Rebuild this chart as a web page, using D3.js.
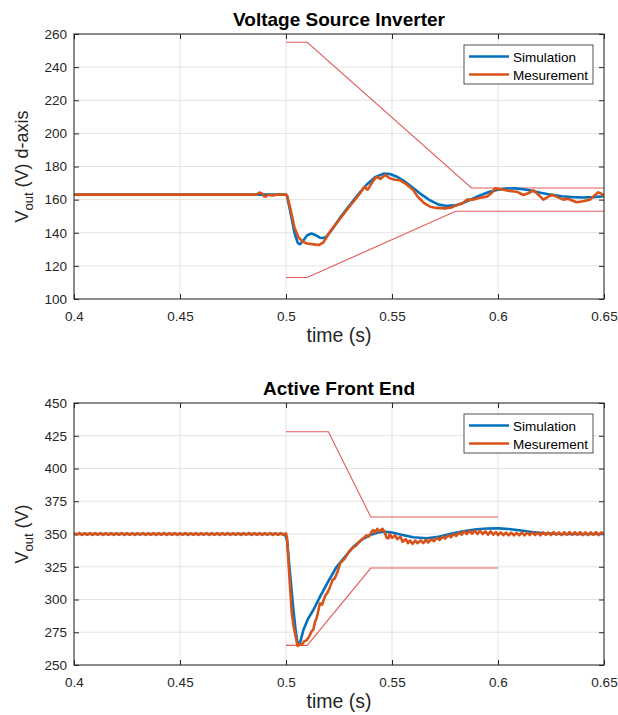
<!DOCTYPE html>
<meta charset="utf-8">
<style>
  body { margin: 0; background: #fff; }
  svg { display: block; font-family: "Liberation Sans", Arial, Helvetica, sans-serif; }
  .grid line { stroke: #e3e3e3; stroke-width: 1; }
  .tick text { fill: #262626; font-size: 13.5px; }
  .axis .domain { display: none; }
  .axis .tick line { stroke: #262626; }
  .frame { fill: none; stroke: #262626; stroke-width: 1; }
  .sim { fill: none; stroke: #0072bd; stroke-width: 2.6; stroke-linejoin: round; }
  .meas { fill: none; stroke: #d95319; stroke-width: 2.6; stroke-linejoin: round; }
  .env { fill: none; stroke: #e45a5a; stroke-width: 1.1; }
</style>
<svg width="618" height="715"></svg>
<script src="https://d3js.org/d3.v7.min.js"></script>
<script>
  // x axis (shared)
  var timeTicks = [0.4, 0.45, 0.5, 0.55, 0.6, 0.65];
  var timeTickLabels = ["0.4", "0.45", "0.5", "0.55", "0.6", "0.65"];
  var seriesNames = ["Simulation", "Mesurement"];

  // ---- Voltage Source Inverter (d-axis) ----
  var vsiTicks = [100, 120, 140, 160, 180, 200, 220, 240, 260];
  var vsiSim = [
    [0.4, 163], [0.5, 163], [0.5005, 162], [0.502, 153], [0.504, 140], [0.5055, 134], [0.5065, 133],
    [0.508, 135], [0.510, 138.5], [0.512, 139.5], [0.514, 138.5], [0.516, 137], [0.5175, 136.8],
    [0.519, 137.5], [0.522, 142.5], [0.526, 150], [0.530, 156.5], [0.534, 163], [0.538, 169],
    [0.542, 173.5], [0.546, 175.7], [0.549, 175.5], [0.552, 174], [0.556, 171], [0.560, 167],
    [0.564, 163], [0.568, 159.5], [0.572, 157], [0.576, 156.2], [0.580, 156.5], [0.584, 158.3],
    [0.588, 160.5], [0.592, 162.8], [0.596, 164.8], [0.600, 166], [0.604, 166.7], [0.608, 166.8],
    [0.612, 166.3], [0.616, 165.3], [0.620, 164.2], [0.625, 163], [0.630, 162], [0.635, 161.5],
    [0.640, 161.3], [0.645, 161.5], [0.65, 162]
  ];
  var vsiMeas = [
    [0.4, 163], [0.486, 163], [0.4875, 164.3], [0.489, 163.5], [0.4895, 162], [0.4905, 161.8],
    [0.4915, 163], [0.4935, 162.5], [0.496, 163], [0.5, 163], [0.5005, 162.5], [0.502, 155],
    [0.504, 143], [0.506, 137], [0.508, 134.5], [0.510, 133.5], [0.513, 133], [0.5155, 132.6],
    [0.5175, 134], [0.519, 137], [0.521, 141], [0.524, 146], [0.527, 151], [0.530, 156], [0.532, 159],
    [0.535, 164], [0.537, 167.8], [0.5385, 166], [0.5395, 168], [0.5405, 170], [0.5415, 172],
    [0.5428, 173.8], [0.5445, 172.5], [0.5467, 174.9], [0.549, 172.9], [0.5514, 172], [0.5535, 171.8],
    [0.556, 170], [0.558, 168], [0.560, 165.8], [0.562, 162], [0.565, 158], [0.568, 155.7],
    [0.571, 155], [0.575, 154.7], [0.578, 155.2], [0.5805, 156.7], [0.583, 157.5], [0.5855, 160],
    [0.588, 160], [0.591, 161], [0.5947, 161.8], [0.597, 164], [0.5986, 166.8], [0.6025, 166],
    [0.6055, 165.2], [0.6088, 164.8], [0.612, 162.8], [0.6145, 164], [0.6167, 165.6], [0.619, 163],
    [0.6214, 160], [0.624, 162], [0.626, 162.8], [0.628, 161.5], [0.6308, 160], [0.633, 160.5],
    [0.635, 159.5], [0.6371, 158.4], [0.640, 159], [0.6434, 160], [0.6455, 162.5], [0.6473, 164.4],
    [0.649, 163.5], [0.65, 162]
  ];
  var vsiUpper = [[0.5, 255], [0.51, 255], [0.5875, 167], [0.65, 167]];
  var vsiLower = [[0.5, 113], [0.51, 113], [0.58, 153], [0.65, 153]];

  // ---- Active Front End ----
  var afeTicks = [250, 275, 300, 325, 350, 375, 400, 425, 450];
  var afeSim = [
    [0.4, 350], [0.4995, 350], [0.5005, 345], [0.502, 318], [0.5035, 292], [0.5045, 277],
    [0.5052, 269], [0.5058, 265.5], [0.5068, 268], [0.5082, 276.7], [0.5105, 285.6], [0.5129, 292],
    [0.516, 302], [0.520, 314], [0.5239, 325], [0.528, 333], [0.5318, 340.3], [0.536, 346],
    [0.5396, 349.2], [0.543, 351], [0.5459, 351.8], [0.550, 351.2], [0.555, 349.2], [0.560, 347.5],
    [0.5664, 346.7], [0.572, 347.8], [0.5789, 350.5], [0.585, 352.5], [0.590, 353.6], [0.595, 354.2],
    [0.6002, 354.3], [0.605, 353.8], [0.610, 352.8], [0.615, 351.7], [0.6214, 350.5], [0.63, 350],
    [0.65, 350]
  ];
  // measured ripple before the step, sampled every rippleDt from 0.4
  var rippleDt = 0.00125;
  var afeMeasBefore = [
    350.7, 349.4, 350.8, 349.3, 350.6, 349.4, 350.7, 349.3, 350.7, 349.4,
    350.8, 349.3, 350.7, 349.4, 350.7, 349.3, 350.6, 349.4, 350.8, 349.3,
    350.7, 349.4, 350.7, 349.3, 350.7, 349.4, 350.8, 349.3, 350.6, 349.4,
    350.7, 349.3, 350.7, 349.4, 350.8, 349.3, 350.7, 349.4, 350.7, 349.3,
    350.7, 349.4, 350.8, 349.3, 350.6, 349.4, 350.7, 349.3, 350.7, 349.4,
    350.8, 349.3, 350.7, 349.4, 350.7, 349.3, 350.7, 349.4, 350.8, 349.3,
    350.6, 349.4, 350.7, 349.3, 350.7, 349.4, 350.8, 349.3, 350.7, 349.4,
    350.7, 349.3, 350.7, 349.4, 350.8, 349.3, 350.6, 349.4, 350.7, 349.3,
    350.5
  ];
  var afeMeasStep = [
    [0.5005, 347], [0.5015, 320], [0.5027, 290], [0.5035, 280.5], [0.5045, 272], [0.5055, 264.5],
    [0.5065, 266], [0.5075, 265.5], [0.5085, 268], [0.5098, 269], [0.511, 272], [0.5122, 276],
    [0.5129, 277], [0.5137, 283], [0.5145, 286], [0.516, 297], [0.517, 296], [0.5185, 303],
    [0.5195, 305], [0.5208, 309.8], [0.522, 315], [0.523, 316], [0.5245, 322], [0.5255, 327.6],
    [0.527, 330], [0.528, 332], [0.5295, 336], [0.5318, 340], [0.533, 341], [0.5345, 344],
    [0.5365, 346.7], [0.538, 349], [0.539, 348], [0.5405, 352], [0.5412, 353], [0.542, 351],
    [0.543, 354], [0.544, 352], [0.5455, 354], [0.5465, 351.5], [0.5475, 347], [0.5483, 346.7],
    [0.549, 350], [0.550, 347], [0.5515, 349], [0.5525, 346], [0.554, 348], [0.555, 344],
    [0.5565, 346], [0.5575, 343], [0.5585, 345], [0.5598, 342.5], [0.561, 345], [0.562, 343],
    [0.5635, 345], [0.5648, 343], [0.566, 345.5], [0.567, 343.5], [0.5685, 346], [0.5698, 344.5],
    [0.5711, 347], [0.5725, 345.5], [0.574, 348], [0.575, 346.5], [0.5765, 349], [0.5778, 347.5],
    [0.579, 350], [0.5803, 348.5], [0.5815, 351], [0.5828, 349.5], [0.584, 352], [0.5853, 350],
    [0.5865, 352.3], [0.5878, 350.2], [0.589, 352.5], [0.5903, 350], [0.5915, 352.5], [0.5928, 350],
    [0.594, 352], [0.5953, 349.5], [0.5965, 352], [0.5978, 349.5], [0.599, 351.5]
  ];
  // measured ripple after 0.6, sampled every rippleDt
  var afeMeasAfter = [
    349.2, 351.3, 349.1, 351.1, 349.0, 351.0, 348.9, 350.9, 348.9, 351.0,
    349.0, 351.1, 349.1, 351.2, 349.2, 351.0, 349.0, 351.3, 349.3, 351.1,
    349.1, 351.4, 349.4, 351.2, 349.2, 351.3, 349.4, 351.5, 349.3, 351.3,
    349.4, 351.4, 349.2, 351.2, 349.1, 351.3, 349.3, 351.4, 349.2, 351.2,
    350.3
  ];
  var afeUpper = [[0.5, 428], [0.52, 428], [0.54, 363], [0.6, 363]];
  var afeLower = [[0.5, 265], [0.51, 265], [0.54, 324], [0.6, 324]];

  var afeMeas = afeMeasBefore.map(function(v, i) { return [0.4 + i * rippleDt, v]; })
    .concat(afeMeasStep)
    .concat(afeMeasAfter.map(function(v, i) { return [0.6 + i * rippleDt, v]; }));

  var svg = d3.select("svg");
  var left = 74, right = 604;

  function panel(opt) {
    var top = opt.top, bottom = opt.bottom, id = opt.id;
    var x = d3.scaleLinear().domain([0.4, 0.65]).range([left, right]);
    var y = d3.scaleLinear().domain([opt.yTicks[0], opt.yTicks[opt.yTicks.length - 1]]).range([bottom, top]);
    var g = svg.append("g");

    g.append("clipPath").attr("id", "clip" + id)
      .append("rect").attr("x", left).attr("y", top).attr("width", right - left).attr("height", bottom - top);

    // grid
    var grid = g.append("g").attr("class", "grid");
    grid.selectAll(".gx").data(timeTicks).join("line")
      .attr("x1", d => x(d)).attr("x2", d => x(d)).attr("y1", top).attr("y2", bottom);
    grid.selectAll(".gy").data(opt.yTicks).join("line")
      .attr("y1", d => y(d)).attr("y2", d => y(d)).attr("x1", left).attr("x2", right);

    // axes, ticks pointing inward on all four sides
    g.append("g").attr("class", "axis").attr("transform", "translate(0," + bottom + ")")
      .call(d3.axisBottom(x).tickValues(timeTicks).tickFormat((d, i) => timeTickLabels[i]).tickSize(-5).tickPadding(12));
    g.append("g").attr("class", "axis").attr("transform", "translate(0," + top + ")")
      .call(d3.axisTop(x).tickValues(timeTicks).tickFormat("").tickSize(-5));
    g.append("g").attr("class", "axis").attr("transform", "translate(" + left + ",0)")
      .call(d3.axisLeft(y).tickValues(opt.yTicks).tickFormat(d3.format("d")).tickSize(-5).tickPadding(7));
    g.append("g").attr("class", "axis").attr("transform", "translate(" + right + ",0)")
      .call(d3.axisRight(y).tickValues(opt.yTicks).tickFormat("").tickSize(-5));

    var line = d3.line().x(d => x(d[0])).y(d => y(d[1]));
    var plot = g.append("g").attr("clip-path", "url(#clip" + id + ")");
    plot.append("path").datum(opt.upper).attr("class", "env").attr("d", line);
    plot.append("path").datum(opt.lower).attr("class", "env").attr("d", line);
    plot.append("path").datum(opt.sim).attr("class", "sim").attr("d", line);
    plot.append("path").datum(opt.meas).attr("class", "meas").attr("d", line);

    g.append("rect").attr("class", "frame")
      .attr("x", left).attr("y", top).attr("width", right - left).attr("height", bottom - top);

    // title
    g.append("text").attr("x", (left + right) / 2).attr("y", top - 8)
      .attr("text-anchor", "middle").attr("font-weight", "bold").attr("font-size", 19)
      .attr("fill", "#000").text(opt.title);

    // x label
    g.append("text").attr("x", (left + right) / 2).attr("y", bottom + 43)
      .attr("text-anchor", "middle").attr("font-size", 19.5).attr("fill", "#262626").text("time (s)");

    // y label
    var yl = g.append("text").attr("transform", "translate(28," + (top + bottom) / 2 + ") rotate(-90)")
      .attr("text-anchor", "middle").attr("font-size", 18).attr("fill", "#262626");
    yl.append("tspan").text("V");
    yl.append("tspan").attr("font-size", 13).attr("dy", 5).text("out");
    yl.append("tspan").attr("dy", -5).text(" " + opt.yLabel);

    // legend
    var lg = g.append("g").attr("transform", "translate(464," + (top + 11) + ")");
    lg.append("rect").attr("width", 129).attr("height", 39)
      .attr("fill", "#fff").attr("stroke", "#262626").attr("stroke-width", 0.8);
    seriesNames.forEach(function(name, i) {
      var yy = 11.5 + i * 18;
      lg.append("line").attr("x1", 5).attr("x2", 45).attr("y1", yy).attr("y2", yy)
        .attr("class", i === 0 ? "sim" : "meas");
      lg.append("text").attr("x", 49).attr("y", yy + 5).attr("font-size", 13.5)
        .attr("fill", "#000").text(name);
    });
  }

  panel({
    id: 1, top: 34, bottom: 299, title: "Voltage Source Inverter", yLabel: "(V) d-axis",
    yTicks: vsiTicks, sim: vsiSim, meas: vsiMeas, upper: vsiUpper, lower: vsiLower
  });
  panel({
    id: 2, top: 403, bottom: 665, title: "Active Front End", yLabel: "(V)",
    yTicks: afeTicks, sim: afeSim, meas: afeMeas, upper: afeUpper, lower: afeLower
  });
</script>
